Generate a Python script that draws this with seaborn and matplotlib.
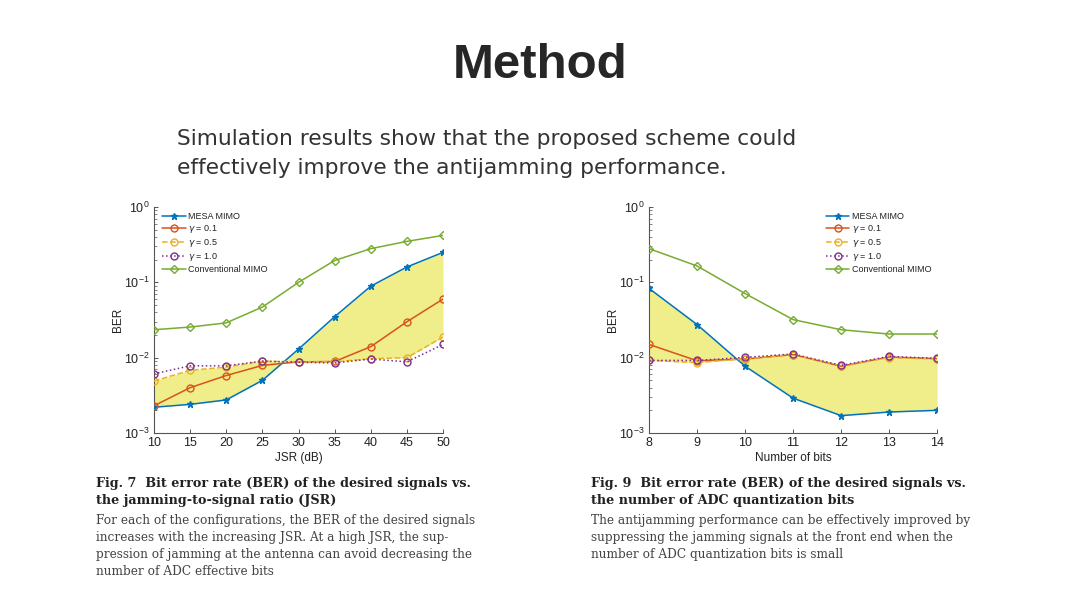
import numpy as np
import pandas as pd
import matplotlib
matplotlib.use("Agg")
import matplotlib.pyplot as plt
import seaborn as sns
from matplotlib.ticker import LogLocator, NullFormatter

# ---------------- data ----------------
jsr = [10, 15, 20, 25, 30, 35, 40, 45, 50]
jsr_mesa = [2.2e-3, 2.4e-3, 2.75e-3, 5.0e-3, 1.3e-2, 3.5e-2, 8.9e-2, 0.16, 0.25]
jsr_g01 = [2.3e-3, 4.0e-3, 5.8e-3, 7.9e-3, 8.8e-3, 8.9e-3, 1.4e-2, 3.0e-2, 6.0e-2]
jsr_g05 = [4.9e-3, 6.8e-3, 7.5e-3, 9.0e-3, 8.8e-3, 8.8e-3, 9.7e-3, 1.0e-2, 1.88e-2]
jsr_g10 = [6.1e-3, 7.8e-3, 7.8e-3, 9.0e-3, 8.7e-3, 8.5e-3, 9.6e-3, 8.8e-3, 1.5e-2]
jsr_conv = [2.35e-2, 2.55e-2, 2.9e-2, 4.7e-2, 0.10, 0.195, 0.28, 0.35, 0.42]

bits = [8, 9, 10, 11, 12, 13, 14]
bits_mesa = [8.3e-2, 2.75e-2, 7.7e-3, 2.9e-3, 1.7e-3, 1.9e-3, 2.0e-3]
bits_g01 = [1.5e-2, 9.1e-3, 9.6e-3, 1.1e-2, 7.7e-3, 1.02e-2, 9.7e-3]
bits_g05 = [9.2e-3, 8.6e-3, 9.7e-3, 1.1e-2, 7.8e-3, 1.0e-2, 9.6e-3]
bits_g10 = [9.2e-3, 9.2e-3, 1.01e-2, 1.12e-2, 7.9e-3, 1.04e-2, 9.8e-3]
bits_conv = [0.28, 0.165, 0.071, 0.032, 0.0235, 0.0206, 0.0206]

labels = ["MESA MIMO", r"$\gamma$ = 0.1", r"$\gamma$ = 0.5", r"$\gamma$ = 1.0", "Conventional MIMO"]

sns.set_theme(style="white")
plt.rcParams["font.family"] = ["Liberation Sans", "DejaVu Sans"]
plt.rcParams["mathtext.fontset"] = "dejavusans"

fig = plt.figure(figsize=(10.8, 6.08), dpi=100)
fig.patch.set_facecolor("white")

colors = ["#0072BD", "#D95319", "#EDB120", "#7E2F8E", "#77AC30"]
styles = [
    dict(marker="*", linestyle="-", markersize=5, markerfacecolor=colors[0]),
    dict(marker="o", linestyle="-", markersize=5, markerfacecolor="none"),
    dict(marker="o", linestyle="--", markersize=5, markerfacecolor="none"),
    dict(marker="o", linestyle=":", markersize=5, markerfacecolor="none"),
    dict(marker="D", linestyle="-", markersize=4.5, markerfacecolor="none"),
]
fill_col = "#efee8a"


def draw(ax, x, series, xlabel, legend_loc, legend_anchor):
    upper = series[2]
    ax.fill_between(x, series[0], upper, color=fill_col, linewidth=0, zorder=1)
    for i, (s, lab) in enumerate(zip(series, labels)):
        sns.lineplot(x=x, y=s, ax=ax, color=colors[i], label=lab, linewidth=1.1,
                     markeredgecolor=colors[i], markeredgewidth=1.0, zorder=3, **styles[i])
    ax.set_yscale("log")
    ax.set_ylim(1e-3, 1)
    ax.set_xlim(x[0], x[-1])
    ax.set_xticks(x)
    ax.yaxis.set_major_locator(LogLocator(base=10, numticks=10))
    ax.yaxis.set_minor_locator(LogLocator(base=10, subs=np.arange(2, 10), numticks=10))
    ax.yaxis.set_minor_formatter(NullFormatter())
    for side in ["top", "right"]:
        ax.spines[side].set_visible(False)
    for side in ["left", "bottom"]:
        ax.spines[side].set_color("#555555")
        ax.spines[side].set_linewidth(0.8)
    ax.tick_params(axis="both", which="major", direction="in", length=3, width=0.7,
                   colors="#555555", labelcolor="#222222", labelsize=9,
                   left=True, bottom=True, pad=3)
    ax.tick_params(axis="y", which="minor", direction="in", length=2, width=0.5,
                   colors="#555555", left=True)
    ax.set_xlabel(xlabel, fontsize=8.5, color="#222222", labelpad=2)
    ax.set_ylabel("BER", fontsize=8.5, color="#222222", labelpad=0)
    ax.set_facecolor("white")
    ax.grid(False)
    leg = ax.legend(loc=legend_loc, bbox_to_anchor=legend_anchor, frameon=False,
                    fontsize=6.5, handlelength=2.6, handletextpad=0.3, labelspacing=0.2,
                    borderaxespad=0.2)
    for t in leg.get_texts():
        t.set_color("#222222")


ax1 = fig.add_axes([0.1426, 0.2878, 0.2676, 0.3717])
draw(ax1, jsr, [jsr_mesa, jsr_g01, jsr_g05, jsr_g10, jsr_conv], "JSR (dB)",
     "upper left", (0.01, 1.0))

ax2 = fig.add_axes([0.601, 0.2878, 0.2667, 0.3717])
draw(ax2, bits, [bits_mesa, bits_g01, bits_g05, bits_g10, bits_conv], "Number of bits",
     "upper right", (1.0, 1.0))

# ---------------- slide text ----------------
fig.text(0.5, 1 - 65 / 608, "Method", ha="center", va="center", fontsize=35.5,
         fontweight="bold", color="#262626", family=["Liberation Sans", "DejaVu Sans"])
sub_font = ["DejaVu Sans"]
fig.text(177 / 1080, 1 - 145 / 608, "Simulation results show that the proposed scheme could",
         ha="left", va="baseline", fontsize=15.7, color="#333333", family=sub_font)
fig.text(177 / 1080, 1 - 174 / 608, "effectively improve the antijamming performance.",
         ha="left", va="baseline", fontsize=15.7, color="#333333", family=sub_font)

serif = ["DejaVu Serif", "Liberation Serif"]
cap1_bold = ["Fig. 7  Bit error rate (BER) of the desired signals vs.",
             "the jamming-to-signal ratio (JSR)"]
cap1 = ["For each of the configurations, the BER of the desired signals",
        "increases with the increasing JSR. At a high JSR, the sup-",
        "pression of jamming at the antenna can avoid decreasing the",
        "number of ADC effective bits"]
cap2_bold = ["Fig. 9  Bit error rate (BER) of the desired signals vs.",
             "the number of ADC quantization bits"]
cap2 = ["The antijamming performance can be effectively improved by",
        "suppressing the jamming signals at the front end when the",
        "number of ADC quantization bits is small"]


def caption(x0, bold_lines, lines):
    y = 487
    for l in bold_lines:
        fig.text(x0 / 1080, 1 - y / 608, l, ha="left", va="baseline", fontsize=9.15,
                 fontweight="bold", family=serif, color="#222222")
        y += 17
    y += 3
    for l in lines:
        fig.text(x0 / 1080, 1 - y / 608, l, ha="left", va="baseline", fontsize=8.75,
                 family=serif, color="#444444")
        y += 17


caption(96, cap1_bold, cap1)
caption(591, cap2_bold, cap2)

fig.savefig("out.png", dpi=100, facecolor="white")
